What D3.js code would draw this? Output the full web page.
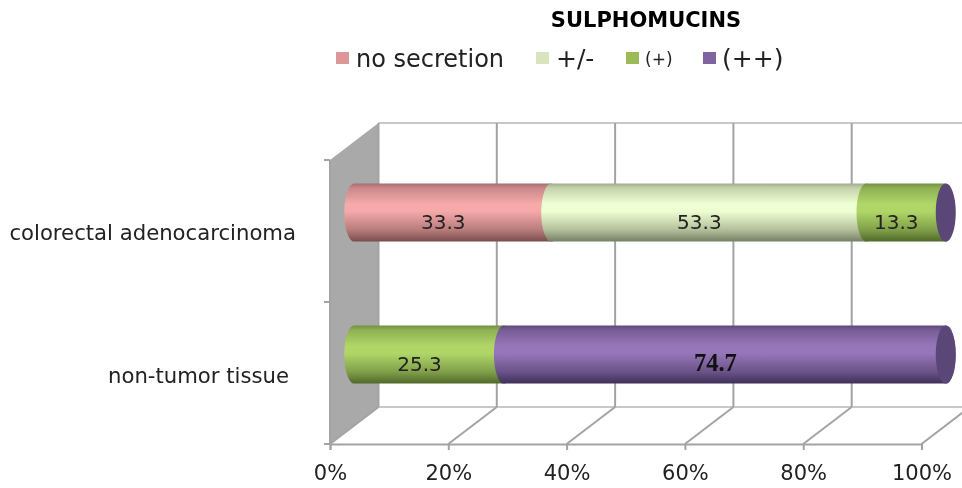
<!DOCTYPE html>
<html>
<head>
<meta charset="utf-8">
<script src="https://cdn.jsdelivr.net/npm/d3@7"></script>
<style>
  html, body { margin: 0; padding: 0; background: #fff; }
  text { font-family: "DejaVu Sans", sans-serif; }
  svg { filter: blur(0.35px); }
</style>
</head>
<body>
<div id="chart"></div>
<script>
var categories = ["colorectal adenocarcinoma", "non-tumor tissue"];
var seriesNames = ["no secretion", "+/-", "(+)", "(++)"];
var noSecretion = [33.3, 0];
var plusMinus = [53.3, 0];
var plusOne = [13.3, 25.3];
var plusTwo = [0, 74.7];
var tickValues = [0, 20, 40, 60, 80, 100];

var seriesValues = [noSecretion, plusMinus, plusOne, plusTwo];
// edge / mid colours for the cylinder shading, legend swatch, end cap
var barColors = [
  {dark: "#7a4c4c", mid: "#f5a9a9", swatch: "#dd9797"},
  {dark: "#757f64", mid: "#eeffd2", swatch: "#d8e4bd"},
  {dark: "#50682a", mid: "#b0d668", swatch: "#9bbb58"},
  {dark: "#3e2f58", mid: "#9676b8", swatch: "#8064a2", cap: "#5b4678"}
];

var svg = d3.select("#chart").append("svg").attr("width", 962).attr("height", 488).style("display", "block");
var defs = svg.append("defs");

barColors.forEach(function(c, i){
  var g = defs.append("linearGradient").attr("id", "cyl" + i)
    .attr("x1", 0).attr("x2", 0).attr("y1", 0).attr("y2", 1);
  var mix = d3.interpolateRgb(c.dark, c.mid);
  g.append("stop").attr("offset", "0%").attr("stop-color", mix(0.35));
  g.append("stop").attr("offset", "8%").attr("stop-color", mix(0.65));
  g.append("stop").attr("offset", "35%").attr("stop-color", c.mid);
  g.append("stop").attr("offset", "48%").attr("stop-color", c.mid);
  g.append("stop").attr("offset", "80%").attr("stop-color", mix(0.5));
  g.append("stop").attr("offset", "100%").attr("stop-color", c.dark);
});

// front plane of the fake 3d box, back plane is shifted by depth
var x = d3.scaleLinear().domain([0, 100]).range([330, 921.5]);
var y = d3.scaleBand().domain(categories).range([160, 444]);
var depthX = 48.5, depthY = -37;
var wallTop = y.range()[0], wallBottom = y.range()[1];
var gridColor = "#a3a3a3";

// left wall
svg.append("polygon")
  .attr("points", [[x(0), wallTop], [x(0) + depthX, wallTop + depthY], [x(0) + depthX, wallBottom + depthY], [x(0), wallBottom]].join(" "))
  .attr("fill", "#a9a9a9");

// top of the back wall, floor back edge
svg.append("line").attr("x1", x(0) + depthX).attr("x2", 962)
  .attr("y1", wallTop + depthY).attr("y2", wallTop + depthY)
  .attr("stroke", "#c8c8c8").attr("stroke-width", 2);
svg.append("line").attr("x1", x(0) + depthX).attr("x2", 962)
  .attr("y1", wallBottom + depthY).attr("y2", wallBottom + depthY)
  .attr("stroke", "#c8c8c8").attr("stroke-width", 2);

// grid on back wall and floor
svg.selectAll(".grid").data(tickValues).enter().append("line")
  .attr("class", "grid")
  .attr("x1", function(d){ return x(d) + depthX; })
  .attr("x2", function(d){ return x(d) + depthX; })
  .attr("y1", wallTop + depthY).attr("y2", wallBottom + depthY)
  .attr("stroke", gridColor).attr("stroke-width", 2);
svg.selectAll(".floor").data(tickValues).enter().append("line")
  .attr("class", "floor")
  .attr("x1", function(d){ return x(d); })
  .attr("x2", function(d){ return x(d) + depthX; })
  .attr("y1", wallBottom).attr("y2", wallBottom + depthY)
  .attr("stroke", gridColor).attr("stroke-width", 2);

// x axis
var xAxis = d3.axisBottom(x).tickValues(tickValues).tickSize(6).tickPadding(15)
  .tickFormat(function(d){ return d + "%"; });
var gx = svg.append("g").attr("transform", "translate(0," + wallBottom + ")").call(xAxis);
gx.selectAll("path, line").attr("stroke", gridColor).attr("stroke-width", 2);
gx.selectAll("text").attr("font-size", 21).attr("fill", "#222")
  .style("font-family", '"DejaVu Sans", sans-serif');

// left axis line + ticks
svg.append("line").attr("x1", x(0)).attr("x2", x(0)).attr("y1", wallTop).attr("y2", wallBottom)
  .attr("stroke", gridColor).attr("stroke-width", 2);
svg.selectAll(".ytick").data([wallTop, wallTop + y.bandwidth(), wallBottom]).enter().append("line")
  .attr("class", "ytick")
  .attr("x1", x(0) - 6).attr("x2", x(0))
  .attr("y1", function(d){ return d; }).attr("y2", function(d){ return d; })
  .attr("stroke", gridColor).attr("stroke-width", 2);

// bars sit half way into the depth
var barH = y.bandwidth() * 0.41;
var rx = 10, ry = barH / 2;
function barX(v){ return x(v) + depthX / 2; }
function barMid(cat){ return y(cat) + y.bandwidth() / 2 + depthY / 2; }

categories.forEach(function(cat, row){
  var cy = barMid(cat), top = cy - ry, bottom = cy + ry;
  var sum = 0;
  var g = svg.append("g");
  seriesValues.forEach(function(vals, s){
    var v = vals[row];
    if(!v) return;
    var a = barX(sum), b = barX(sum + v);
    // left edge bulges left, right edge bulges right, so later pieces lap over earlier
    g.append("path")
      .attr("d", "M" + a + "," + top + " L" + b + "," + top +
        " A" + rx + "," + ry + " 0 0 1 " + b + "," + bottom +
        " L" + a + "," + bottom +
        " A" + rx + "," + ry + " 0 0 1 " + a + "," + top + "Z")
      .attr("fill", "url(#cyl" + s + ")");
    sum += v;
  });
  // end cap, always purple in the original
  g.append("ellipse").attr("cx", barX(100)).attr("cy", cy).attr("rx", rx).attr("ry", ry)
    .attr("fill", barColors[3].cap);

  // value labels
  sum = 0;
  seriesValues.forEach(function(vals, s){
    var v = vals[row];
    if(!v) return;
    var lx = (barX(sum) + barX(sum + v)) / 2 - 9.5;
    var t = g.append("text").attr("x", lx).attr("y", cy + 16)
      .attr("text-anchor", "middle").attr("font-size", 20).attr("fill", "#222")
      .text(v.toFixed(1));
    if(s == 3){
      // this one label is a bold serif in the original
      t.style("font-family", '"Liberation Serif", serif').attr("font-weight", "bold")
        .attr("font-size", 24.5).attr("fill", "#111");
    }
    sum += v;
  });

  // category label
  svg.append("text").attr("x", row == 0 ? 296 : 289).attr("y", cy + (row == 0 ? 27 : 28))
    .attr("text-anchor", "end").attr("font-size", 21.2).attr("fill", "#222")
    .text(cat);
});

// title
svg.append("text").attr("x", 646).attr("y", 27).attr("text-anchor", "middle")
  .attr("font-size", 21).attr("font-weight", "bold").attr("fill", "#000")
  .text("SULPHOMUCINS");

// legend
var legendX = [336, 536, 626, 703];
var legendText = [356, 556, 645, 722];
var legendSize = [24, 25, 17, 25];
seriesNames.forEach(function(name, i){
  svg.append("rect").attr("x", legendX[i]).attr("y", 52).attr("width", 13).attr("height", 12)
    .attr("fill", barColors[i].swatch);
  svg.append("text").attr("x", legendText[i]).attr("y", i == 2 ? 65 : 67)
    .attr("font-size", legendSize[i]).attr("fill", "#222")
    .text(name);
});
</script>
</body>
</html>
